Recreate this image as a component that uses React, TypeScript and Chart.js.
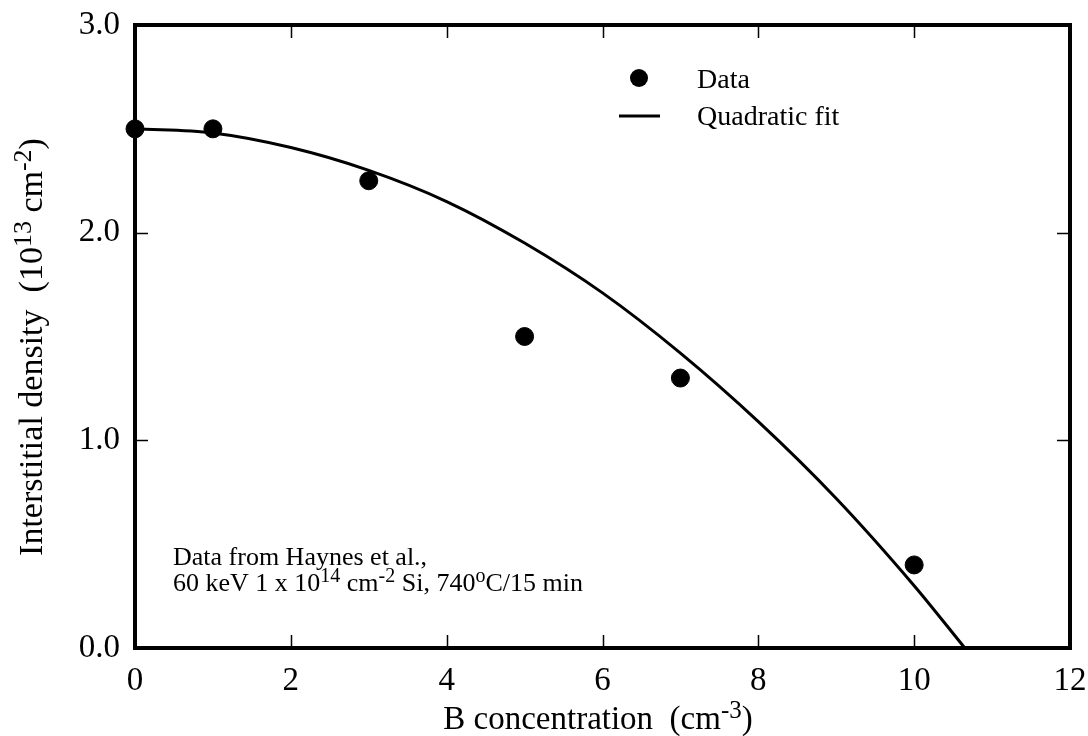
import React, { useEffect, useRef } from 'react';
import { Chart, registerables } from 'chart.js';

Chart.register(...registerables);

// Measured data points
const dataX = [0, 1, 3, 5, 7, 10];
const dataY = [2.5, 2.5, 2.25, 1.5, 1.3, 0.4];

// Quadratic fit curve
const fitX = [0, 1, 2, 3, 4, 5, 6, 7, 8, 9, 10, 10.65];
const fitY = [2.5, 2.48, 2.41, 2.3, 2.15, 1.95, 1.71, 1.42, 1.09, 0.72, 0.3, 0];

const xTicks = [0, 2, 4, 6, 8, 10, 12];
const yTicks = [0, 1, 2, 3];

const FONT = '"Liberation Serif", "Times New Roman", Times, serif';

type Seg = { t: string; sup?: boolean };

function drawRich(ctx: CanvasRenderingContext2D, segs: Seg[], x: number, y: number, size: number, align: 'left' | 'center') {
  const supSize = Math.round(size * 0.75);
  const widths = segs.map((s) => {
    ctx.font = `${s.sup ? supSize : size}px ${FONT}`;
    return ctx.measureText(s.t).width;
  });
  const total = widths.reduce((a, b) => a + b, 0);
  let cx = align === 'center' ? x - total / 2 : x;
  ctx.textAlign = 'left';
  ctx.textBaseline = 'alphabetic';
  segs.forEach((s, i) => {
    ctx.font = `${s.sup ? supSize : size}px ${FONT}`;
    ctx.fillText(s.t, cx, s.sup ? y - size * 0.33 : y);
    cx += widths[i];
  });
}

const decorPlugin = {
  id: 'decor',
  afterDraw(chart: any) {
    const ctx: CanvasRenderingContext2D = chart.ctx;
    const { left, right, top, bottom } = chart.chartArea;
    const xs = chart.scales.x;
    const ys = chart.scales.y;
    ctx.save();
    ctx.fillStyle = '#000';
    ctx.strokeStyle = '#000';

    // inward ticks
    ctx.lineWidth = 1.5;
    const tl = 13;
    ctx.beginPath();
    xTicks.forEach((v) => {
      const px = Math.round(xs.getPixelForValue(v)) + 0.5;
      ctx.moveTo(px, bottom);
      ctx.lineTo(px, bottom - tl);
      ctx.moveTo(px, top);
      ctx.lineTo(px, top + tl);
    });
    yTicks.forEach((v) => {
      const py = Math.round(ys.getPixelForValue(v)) + 0.5;
      ctx.moveTo(left, py);
      ctx.lineTo(left + tl, py);
      ctx.moveTo(right, py);
      ctx.lineTo(right - tl, py);
    });
    ctx.stroke();

    // frame
    ctx.lineWidth = 4;
    ctx.strokeRect(left, top, right - left, bottom - top);

    // legend
    ctx.beginPath();
    ctx.arc(639, 78, 9, 0, Math.PI * 2);
    ctx.fill();
    ctx.lineWidth = 3;
    ctx.beginPath();
    ctx.moveTo(619, 116);
    ctx.lineTo(660, 116);
    ctx.stroke();
    drawRich(ctx, [{ t: 'Data' }], 697, 88, 28, 'left');
    drawRich(ctx, [{ t: 'Quadratic fit' }], 697, 125, 28, 'left');

    // annotation
    drawRich(ctx, [{ t: 'Data from Haynes et al.,' }], 173, 565, 26, 'left');
    drawRich(
      ctx,
      [
        { t: '60 keV 1 x 10' },
        { t: '14', sup: true },
        { t: ' cm' },
        { t: '-2', sup: true },
        { t: ' Si, 740' },
        { t: 'o', sup: true },
        { t: 'C/15 min' },
      ],
      173,
      591,
      26,
      'left'
    );

    // x axis title
    drawRich(
      ctx,
      [{ t: 'B concentration  (cm' }, { t: '-3', sup: true }, { t: ')' }],
      598,
      729,
      33,
      'center'
    );

    // y axis title
    ctx.save();
    ctx.translate(42, 347);
    ctx.rotate(-Math.PI / 2);
    drawRich(
      ctx,
      [{ t: 'Interstitial density  (10' }, { t: '13', sup: true }, { t: ' cm' }, { t: '-2', sup: true }, { t: ')' }],
      0,
      0,
      34,
      'center'
    );
    ctx.restore();

    ctx.restore();
  },
};

export default function App() {
  const ref = useRef<HTMLCanvasElement | null>(null);

  useEffect(() => {
    if (!ref.current) return;
    const chart = new Chart(ref.current, {
      type: 'scatter',
      data: {
        datasets: [
          {
            label: 'Data',
            data: dataX.map((x, i) => ({ x, y: dataY[i] })),
            backgroundColor: '#000',
            borderColor: '#000',
            pointRadius: 9,
            pointHoverRadius: 9,
            showLine: false,
            clip: false as any,
          },
          {
            label: 'Quadratic fit',
            data: fitX.map((x, i) => ({ x, y: fitY[i] })),
            borderColor: '#000',
            borderWidth: 3,
            pointRadius: 0,
            showLine: true,
            tension: 0.4,
            cubicInterpolationMode: 'monotone',
          } as any,
        ],
      },
      options: {
        responsive: false,
        animation: false,
        events: [],
        layout: { padding: { left: 0, top: 25, right: 18, bottom: 0 } },
        plugins: {
          legend: { display: false },
          tooltip: { enabled: false },
        },
        scales: {
          x: {
            type: 'linear',
            min: 0,
            max: 12,
            grid: { display: false },
            border: { display: false },
            ticks: {
              stepSize: 2,
              color: '#000',
              padding: 6,
              maxRotation: 0,
              font: { family: FONT, size: 33 },
              callback: (v: any) => String(v),
            },
            afterFit: (s: any) => {
              s.height = 88;
              s.paddingLeft = 0;
              s.paddingRight = 0;
            },
          },
          y: {
            type: 'linear',
            min: 0,
            max: 3,
            grid: { display: false },
            border: { display: false },
            ticks: {
              stepSize: 1,
              color: '#000',
              padding: 7,
              font: { family: FONT, size: 33 },
              callback: (v: any) => Number(v).toFixed(1),
            },
            afterFit: (s: any) => {
              s.width = 135;
              s.paddingTop = 0;
              s.paddingBottom = 0;
            },
          },
        },
      },
      plugins: [decorPlugin],
    });
    return () => chart.destroy();
  }, []);

  return (
    <div style={{ position: 'absolute', left: 0, top: 0, width: 1088, height: 736, background: '#fff' }}>
      <canvas ref={ref} width={1088} height={736} style={{ display: 'block' }} />
    </div>
  );
}
